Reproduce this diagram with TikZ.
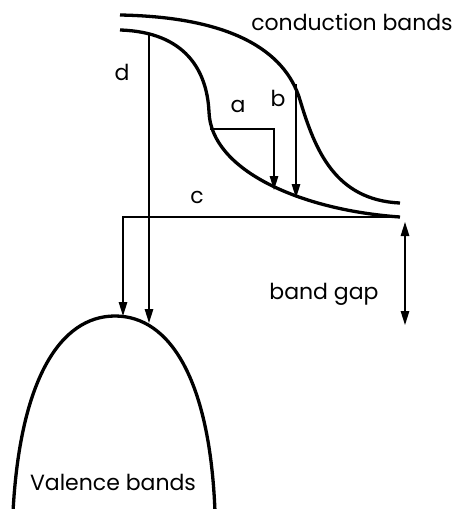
\documentclass[tikz,border=0pt]{standalone}
\usepackage{fontspec}
\setmainfont{Poppins}
\usetikzlibrary{arrows.meta}
\begin{document}
\begin{tikzpicture}[x=1pt,y=-1pt,
  band/.style={line width=3.3pt},
  trans/.style={line width=1.4pt,-{Triangle[length=14pt,width=8.5pt]}},
  lbl/.style={font=\fontsize{22}{24}\selectfont,inner sep=0pt}]
\useasboundingbox (0,0) rectangle (461,509);
% conduction bands
\draw[band] (120,15) .. controls (230,17) and (285,50) .. (300,100) .. controls (315,150) and (335,200) .. (400,203);
\draw[band] (120,30) .. controls (185,32) and (207,70) .. (209,112) .. controls (211,170) and (300,210) .. (400,217);
% valence band
\draw[band] (13,512) .. controls (20,380) and (60,316) .. (115,316) .. controls (170,316) and (210,380) .. (215,512);
% named points
\coordinate (dtop) at (149,33);
\coordinate (dbot) at (149,323);
\coordinate (atop) at (210,129);
\coordinate (acorner) at (274,129);
\coordinate (abot) at (274,190);
\coordinate (btop) at (296,84);
\coordinate (bbot) at (296,198);
\coordinate (cright) at (400,217);
\coordinate (cleft) at (123,217);
\coordinate (cbot) at (123,316);
\coordinate (gtop) at (405,222);
\coordinate (gbot) at (405,325);
% transitions
\draw[trans] (dtop) -- (dbot);
\draw[trans] (atop) -- (acorner) -- (abot);
\draw[trans] (btop) -- (bbot);
\draw[trans] (cright) -- (cleft) -- (cbot);
\draw[line width=1.4pt,{Triangle[length=14pt,width=8.5pt]}-{Triangle[length=14pt,width=8.5pt]}] (gtop) -- (gbot);
% labels
\node[lbl] (tcond) at (352,22) {conduction bands};
\node[lbl] (td) at (122,72) {d};
\node[lbl] (ta) at (238,106) {a};
\node[lbl] (tb) at (278,98) {b};
\node[lbl] (tc) at (197,197) {c};
\node[lbl] (tgap) at (324,294) {band gap};
\node[lbl] (tval) at (113,482) {Valence bands};
\end{tikzpicture}
\end{document}
